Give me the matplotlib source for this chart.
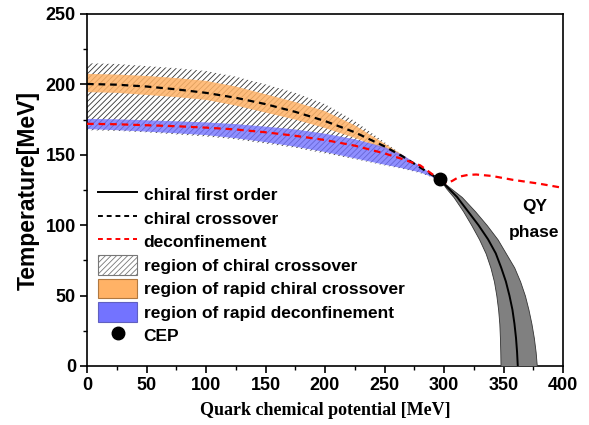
import matplotlib
matplotlib.use("Agg")
import matplotlib.pyplot as plt
from matplotlib.patches import Patch
from matplotlib.lines import Line2D
from matplotlib.ticker import MultipleLocator

# ---------------- data ----------------
mu_band = [0, 25, 50, 75, 100, 125, 150, 175, 200, 225, 250, 265, 280, 297]
hatch_top = [215, 214.5, 213, 211.5, 209.5, 205.5, 200, 194, 186, 174, 159, 150, 141, 132]
hatch_bot = [167.5, 167, 166, 164.5, 163, 161, 158, 155, 151, 147, 142.5, 140, 137, 132]
orange_top = [207.5, 207, 206, 204.5, 202.5, 198.5, 193, 187.5, 181, 171, 158, 150, 141, 132]
orange_bot = [194.5, 194, 192.5, 191, 189, 185, 180, 175, 169, 162, 154, 148, 140.5, 132]
blue_top = [175.5, 175.2, 174.5, 173.8, 173, 171.8, 170, 168, 165, 161, 155.5, 150, 142, 132]
blue_bot = [168.3, 167.5, 166.5, 165.3, 164, 161.8, 159, 155.8, 152, 147.5, 143, 140.5, 137.5, 132]
chiral_cross = [200.3, 199.8, 198.5, 196.5, 194, 190.5, 186, 180.5, 174, 166, 156, 149, 141, 132]
deconf_low = [172, 171.7, 171, 170.3, 169.3, 168, 166, 163.5, 160.5, 156.5, 151, 147, 142.5, 132]

mu_deconf_high = [297, 302, 307, 313, 320, 327, 340, 358, 380, 400]
T_deconf_high = [132, 129.7, 131.5, 134.5, 135.7, 136, 135, 132.2, 129.5, 126.5]

T_fo = [132, 126, 120, 110, 100, 90, 80, 70, 60, 50, 40, 30, 20, 10, 0]
mu_fo_line = [297, 304, 311, 320, 329, 337, 343.5, 348, 352, 355, 357.5, 359.2, 360.5, 361.4, 362]
mu_fo_left = [297, 302, 308, 316, 323, 329.5, 335, 339, 342, 344, 345.5, 346.5, 347, 347.3, 347.5]
mu_fo_right = [297, 306, 315, 326, 336, 345, 352, 359, 364, 368, 371, 373.5, 375.5, 377, 378]

cep_mu, cep_T = 297, 132.5

legend_labels = ["chiral first order", "chiral crossover", "deconfinement",
                 "region of chiral crossover", "region of rapid chiral crossover",
                 "region of rapid deconfinement", "CEP"]

# ---------------- figure ----------------
plt.rcParams['font.family'] = ['Liberation Sans', 'DejaVu Sans']
plt.rcParams['font.weight'] = 'bold'
plt.rcParams['hatch.linewidth'] = 0.6
plt.rcParams['hatch.color'] = '#333333'

fig = plt.figure(figsize=(5.89, 4.25), dpi=100)
ax = fig.add_axes([87/589, 59/425, 476/589, 352/425])

orange = '#FFB266'
blue = '#7373FF'

ax.fill_between(mu_band, hatch_bot, hatch_top, facecolor='white',
                edgecolor='#333333', hatch='//////', linewidth=0, zorder=1)
ax.fill_between(mu_band, orange_bot, orange_top, facecolor=orange,
                alpha=0.85, linewidth=0, zorder=2)
ax.fill_between(mu_band, blue_bot, blue_top, facecolor=blue,
                alpha=0.8, linewidth=0, zorder=2)

ax.fill_betweenx(T_fo, mu_fo_left, mu_fo_right, facecolor='#808080',
                 edgecolor='#333333', linewidth=0.6, zorder=3)
ax.plot(mu_fo_line, T_fo, color='black', lw=1.4, zorder=4)

ax.plot(mu_band, chiral_cross, color='black', lw=1.6, dashes=(3, 2.2), zorder=5)
ax.plot(mu_band, deconf_low, color='#FF0000', lw=1.6, dashes=(3, 2.2), zorder=5)
ax.plot(mu_deconf_high, T_deconf_high, color='#FF0000', lw=1.6,
        dashes=(3, 2.2), zorder=5)
ax.plot([cep_mu], [cep_T], 'o', color='black', ms=9, zorder=6)

ax.text(376, 113, "QY", ha='center', va='center', fontsize=12.5, fontweight='bold')
ax.text(376, 95, "phase", ha='center', va='center', fontsize=12.5, fontweight='bold')

ax.set_xlim(0, 400)
ax.set_ylim(0, 250)
ax.xaxis.set_major_locator(MultipleLocator(50))
ax.xaxis.set_minor_locator(MultipleLocator(25))
ax.yaxis.set_major_locator(MultipleLocator(50))
ax.yaxis.set_minor_locator(MultipleLocator(25))
ax.tick_params(which='major', direction='out', length=5, width=1.2,
               labelsize=13, top=False, right=False, pad=3)
ax.tick_params(which='minor', direction='out', length=3, width=1.0,
               top=False, right=False)
for lab in ax.get_xticklabels() + ax.get_yticklabels():
    lab.set_fontweight('bold')
for s in ax.spines.values():
    s.set_linewidth(1.2)

ax.set_ylabel("Temperature[MeV]", fontsize=16.5, fontweight='bold', labelpad=4)
ax.set_xlabel("Quark chemical potential [MeV]", fontsize=13, fontweight='bold',
              family=['Liberation Serif', 'DejaVu Serif'], labelpad=6)

handles = [
    Line2D([], [], color='black', lw=1.4),
    Line2D([], [], color='black', lw=1.4, dashes=(2.5, 2)),
    Line2D([], [], color='#FF0000', lw=1.4, dashes=(2.5, 2)),
    Patch(facecolor='white', edgecolor='#777777', hatch='//////', lw=0.8),
    Patch(facecolor=orange, edgecolor='#B07840', lw=0.8),
    Patch(facecolor=blue, edgecolor='#6060C0', lw=0.8),
    Line2D([], [], color='black', marker='o', ms=9, ls='none'),
]
ax.legend(handles, legend_labels, loc='upper left', bbox_to_anchor=(0.009, 0.535),
          frameon=False, fontsize=12.5, handlelength=2.25, handleheight=1.35,
          labelspacing=0.23, handletextpad=0.36, borderaxespad=0)

fig.savefig("out.png", dpi=100)
